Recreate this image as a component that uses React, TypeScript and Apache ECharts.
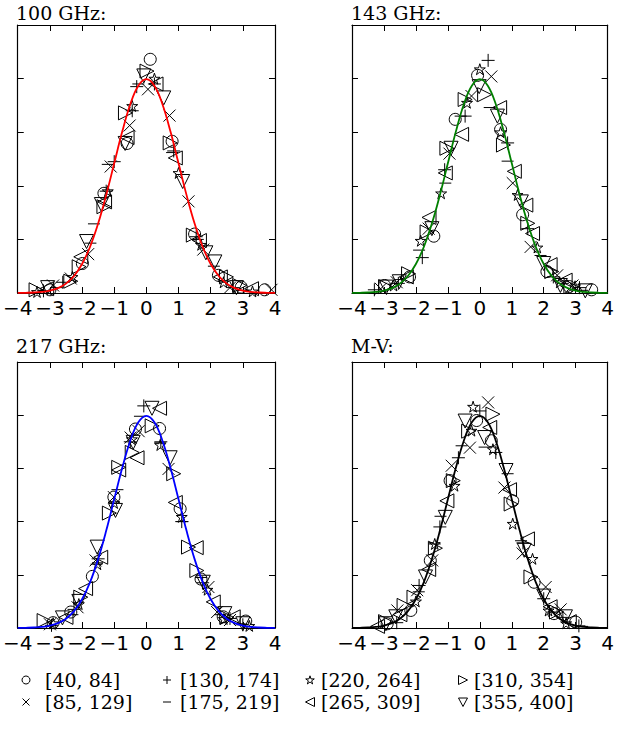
import React, { useEffect, useRef } from "react";
import * as echarts from "echarts";

// ---------- text ----------
const panelTitles = ["100 GHz:", "143 GHz:", "217 GHz:", "M-V:"];
const binLabels = ["[40, 84]", "[85, 129]", "[130, 174]", "[175, 219]", "[220, 264]", "[265, 309]", "[310, 354]", "[355, 400]"];
const curveColors = ["#ff0000", "#008000", "#0000ff", "#000000"];
const xTicks = [-4, -3, -2, -1, 0, 1, 2, 3, 4];

// ---------- fitted normal curve (tabulated) ----------
const curveX = [-4, -3.75, -3.5, -3.25, -3, -2.75, -2.5, -2.25, -2, -1.75, -1.5, -1.25, -1, -0.75, -0.5, -0.25, 0,
  0.25, 0.5, 0.75, 1, 1.25, 1.5, 1.75, 2, 2.25, 2.5, 2.75, 3, 3.25, 3.5, 3.75, 4];
const curveY = [0.0001, 0.0004, 0.0009, 0.002, 0.0044, 0.0091, 0.0175, 0.0317, 0.054, 0.0863, 0.1295, 0.1826, 0.242, 0.3011, 0.3521, 0.3867, 0.3989,
  0.3867, 0.3521, 0.3011, 0.242, 0.1826, 0.1295, 0.0863, 0.054, 0.0317, 0.0175, 0.0091, 0.0044, 0.002, 0.0009, 0.0004, 0.0001];

// ---------- scattered points: order = circle, cross, plus, minus, star, left tri, right tri, down tri ----------
const ghz100: number[][][] = [
  [[0.12, 0.436], [-0.6, 0.279], [0.8, 0.283], [-1.32, 0.186], [-1.99, 0.055], [2.24, 0.033], [2.95, 0.011], [3.68, 0.006], [-3.0, 0.006], [1.5, 0.11]],
  [[0.05, 0.38], [0.72, 0.331], [-0.52, 0.3125], [-1.11, 0.236], [1.31, 0.171], [-1.81, 0.0725], [1.77, 0.081], [-2.35, 0.027], [2.6, 0.01], [-2.9, 0.014], [3.89, 0.006]],
  [[-0.3, 0.385], [-0.44, 0.34], [-1.0, 0.245], [-1.25, 0.19], [0.85, 0.265], [1.55, 0.105], [-2.6, 0.02], [-3.2, 0.004], [2.7, 0.01], [0.25, 0.39]],
  [[-0.25, 0.39], [0.8, 0.262], [-1.63, 0.129], [-1.74, 0.093], [-1.2, 0.24], [1.6, 0.1], [2.1, 0.05], [-2.8, 0.01], [3.0, 0.005]],
  [[0.25, 0.4], [-0.44, 0.349], [1.0, 0.224], [-1.2, 0.19], [1.7, 0.09], [-2.3, 0.03], [2.4, 0.02], [-3.4, 0.002], [3.3, 0.003]],
  [[0.3, 0.39], [0.9, 0.252], [-2.04, 0.0675], [1.65, 0.098], [2.3, 0.03], [3.27, 0.008], [-1.3, 0.17], [-0.6, 0.29], [-3.1, 0.008]],
  [[0.02, 0.414], [-0.65, 0.336], [0.74, 0.28], [-1.32, 0.161], [1.46, 0.108], [-2.09, 0.049], [-2.35, 0.022], [2.49, 0.03], [2.9, 0.014], [-3.43, 0.006]],
  [[-0.08, 0.405], [0.54, 0.364], [-0.66, 0.279], [1.13, 0.208], [-1.86, 0.096], [2.13, 0.058], [-3.07, 0.01], [1.85, 0.075], [-1.4, 0.165], [2.8, 0.01]],
];

const ghz143: number[][][] = [
  [[-0.07, 0.406], [-0.77, 0.324], [0.65, 0.305], [1.34, 0.146], [-1.44, 0.106], [-2.2, 0.03], [-2.98, 0.014], [2.1, 0.04], [3.5, 0.006], [2.8, 0.012]],
  [[0.36, 0.404], [-0.26, 0.3675], [-0.95, 0.26], [1.03, 0.205], [1.59, 0.086], [2.42, 0.033], [-1.6, 0.12], [-2.6, 0.02], [2.9, 0.014], [-3.1, 0.008]],
  [[0.26, 0.434], [-0.46, 0.33], [0.87, 0.28], [-1.1, 0.23], [-1.8, 0.066], [1.5, 0.12], [-2.55, 0.018], [3.12, 0.01], [2.3, 0.03], [-3.3, 0.006]],
  [[0.31, 0.346], [0.87, 0.246], [-1.08, 0.205], [-0.6, 0.33], [-1.9, 0.08], [1.9, 0.07], [2.6, 0.018], [-2.5, 0.025], [3.2, 0.005]],
  [[0.0, 0.4175], [-0.4, 0.355], [0.65, 0.3], [-1.21, 0.186], [1.18, 0.183], [-1.85, 0.0975], [1.8, 0.085], [2.98, 0.0125], [-2.7, 0.014], [2.5, 0.02]],
  [[0.62, 0.346], [-0.57, 0.296], [1.08, 0.227], [-1.08, 0.224], [1.44, 0.164], [-1.59, 0.141], [1.65, 0.111], [2.2, 0.053], [2.67, 0.024], [-2.3, 0.03]],
  [[0.15, 0.37], [-0.46, 0.361], [0.74, 0.276], [-1.03, 0.27], [-1.65, 0.114], [-2.23, 0.036], [1.5, 0.13], [2.25, 0.04], [-2.95, 0.012], [2.85, 0.012]],
  [[-0.02, 0.385], [0.55, 0.33], [-0.9, 0.27], [1.3, 0.17], [-1.5, 0.12], [2.0, 0.055], [-2.52, 0.021], [-2.93, 0.011], [2.52, 0.014], [3.3, 0.004]],
];

const ghz217: number[][][] = [
  [[-0.34, 0.374], [0.41, 0.375], [-1.01, 0.246], [1.05, 0.224], [-1.68, 0.097], [1.7, 0.092], [-2.35, 0.03], [2.39, 0.021], [3.09, 0.013], [-2.9, 0.01]],
  [[-0.24, 0.37], [-0.49, 0.358], [0.69, 0.299], [-1.01, 0.246], [-1.58, 0.127], [1.93, 0.077], [-2.14, 0.039], [2.6, 0.015], [-3.0, 0.007], [2.2, 0.03]],
  [[-0.08, 0.4175], [-0.5, 0.35], [1.1, 0.2], [0.45, 0.35], [-1.5, 0.13], [-2.25, 0.035], [1.75, 0.085], [2.6, 0.018], [-2.95, 0.005], [3.0, 0.006]],
  [[-0.2, 0.398], [0.43, 0.348], [-0.9, 0.26], [1.12, 0.2], [-1.55, 0.12], [1.7, 0.095], [-2.3, 0.025], [2.3, 0.025], [2.9, 0.008]],
  [[0.43, 0.344], [-0.45, 0.355], [1.1, 0.209], [-1.52, 0.12], [-2.1, 0.045], [2.41, 0.017], [-2.9, 0.009], [1.9, 0.072], [-1.0, 0.235], [3.2, 0.004]],
  [[0.41, 0.413], [-0.29, 0.32], [-0.86, 0.297], [0.9, 0.236], [1.55, 0.151], [-1.42, 0.133], [-1.89, 0.074], [2.08, 0.049], [2.7, 0.021], [-2.5, 0.02]],
  [[0.18, 0.38], [-0.44, 0.33], [0.85, 0.29], [-0.86, 0.302], [-1.15, 0.216], [1.31, 0.152], [1.57, 0.108], [-2.04, 0.058], [-3.18, 0.014], [2.5, 0.02]],
  [[0.175, 0.413], [-0.41, 0.349], [0.74, 0.32], [-0.96, 0.221], [-1.53, 0.152], [1.77, 0.086], [2.44, 0.027], [-2.61, 0.019], [-2.1, 0.05], [3.0, 0.008]],
];

const mv: number[][][] = [
  [[0.36, 0.352], [-0.93, 0.277], [1.03, 0.239], [-1.55, 0.127], [1.7, 0.086], [-2.16, 0.033], [2.32, 0.027], [3.0, 0.011], [-2.9, 0.008], [-0.1, 0.39]],
  [[0.26, 0.424], [-0.31, 0.339], [-0.88, 0.305], [0.77, 0.264], [1.34, 0.14], [-1.49, 0.127], [-1.96, 0.071], [2.06, 0.077], [-2.58, 0.033], [2.53, 0.035]],
  [[0.0, 0.408], [-0.67, 0.32], [0.5, 0.33], [-1.25, 0.19], [1.35, 0.16], [-1.9, 0.08], [2.0, 0.055], [-2.6, 0.01], [2.6, 0.02], [3.1, 0.004]],
  [[0.15, 0.34], [-0.57, 0.3425], [0.87, 0.29], [-1.23, 0.21], [1.29, 0.164], [-1.41, 0.158], [-1.91, 0.068], [2.3, 0.03], [3.2, 0.003]],
  [[-0.21, 0.416], [-0.26, 0.371], [0.41, 0.336], [-0.79, 0.2675], [1.03, 0.196], [-1.41, 0.158], [1.65, 0.13], [-2.0, 0.05], [2.15, 0.033], [2.7, 0.009]],
  [[0.31, 0.377], [0.93, 0.26], [-1.03, 0.239], [1.49, 0.1675], [-1.6, 0.11], [2.2, 0.04], [-2.5, 0.025], [2.8, 0.012], [-3.2, 0.003]],
  [[0.41, 0.402], [-0.35, 0.37], [-0.83, 0.277], [0.98, 0.233], [-1.39, 0.15], [1.6, 0.096], [-2.06, 0.058], [-2.37, 0.0425], [2.4, 0.03], [-2.95, 0.012]],
  [[-0.46, 0.389], [0.15, 0.358], [0.82, 0.296], [-1.08, 0.208], [1.39, 0.146], [-1.7, 0.096], [2.68, 0.021], [-2.63, 0.021], [-2.94, 0.008], [2.0, 0.06]],
];

const panelData = [ghz100, ghz143, ghz217, mv];

// ---------- styling / layout ----------
const markerSymbols = [
  "circle",
  "path://M0,0L10,10M10,0L0,10",
  "path://M5,0L5,10M0,5L10,5",
  "path://M0,0M0,10M0,5L10,5",
  "path://M50,0L61.2,34.6L97.6,34.5L68.1,55.9L79.4,90.5L50,69L20.6,90.5L31.9,55.9L2.4,34.5L38.8,34.6Z",
  "path://M10,0L0,5L10,10Z",
  "path://M0,0L10,5L0,10Z",
  "path://M0,0L10,0L5,10Z",
];
const markerSizes = [12, 12, 13, 12, 11, 14, 14, 14];
const starTemplate = [[50, 0], [61.2, 34.6], [97.6, 34.5], [68.1, 55.9], [79.4, 90.5], [50, 69], [20.6, 90.5], [31.9, 55.9], [2.4, 34.5], [38.8, 34.6]];

const grids = [
  { left: 17, top: 25, width: 258, height: 268 },
  { left: 352, top: 25, width: 259, height: 268 },
  { left: 17, top: 362, width: 258, height: 266 },
  { left: 352, top: 362, width: 259, height: 266 },
];
const titlePos = [
  { x: 16, y: 12.5 },
  { x: 351, y: 12.5 },
  { x: 16, y: 346 },
  { x: 351, y: 346 },
];
const legendMarkerPos = [
  { x: 26, y: 680 }, { x: 26, y: 702 },
  { x: 167, y: 680 }, { x: 167, y: 702 },
  { x: 310, y: 680 }, { x: 310, y: 702 },
  { x: 463, y: 680 }, { x: 463, y: 702 },
];
const legendTextX = [45, 45, 180, 180, 321, 321, 474, 474];

const fmt = (v: number) => (v < 0 ? "\u2212" + Math.abs(v) : String(v));

const stroke = { fill: "none", stroke: "#000", lineWidth: 1 };

function legendMarker(k: number, cx: number, cy: number): any {
  const h = 4;
  switch (k) {
    case 0:
      return { type: "circle", shape: { cx, cy, r: 4 }, style: stroke };
    case 1:
      return {
        type: "group",
        children: [
          { type: "line", shape: { x1: cx - 3.5, y1: cy - 3.5, x2: cx + 3.5, y2: cy + 3.5 }, style: stroke },
          { type: "line", shape: { x1: cx + 3.5, y1: cy - 3.5, x2: cx - 3.5, y2: cy + 3.5 }, style: stroke },
        ],
      };
    case 2:
      return {
        type: "group",
        children: [
          { type: "line", shape: { x1: cx - h, y1: cy, x2: cx + h, y2: cy }, style: stroke },
          { type: "line", shape: { x1: cx, y1: cy - h, x2: cx, y2: cy + h }, style: stroke },
        ],
      };
    case 3:
      return { type: "line", shape: { x1: cx - h, y1: cy, x2: cx + h, y2: cy }, style: stroke };
    case 4:
      return {
        type: "polygon",
        shape: { points: starTemplate.map((p) => [cx - 4.5 + p[0] * 0.09, cy - 4.2 + p[1] * 0.09]) },
        style: stroke,
      };
    case 5:
      return { type: "polygon", shape: { points: [[cx + 4.5, cy - 4.5], [cx - 4.5, cy], [cx + 4.5, cy + 4.5]] }, style: stroke };
    case 6:
      return { type: "polygon", shape: { points: [[cx - 4.5, cy - 4.5], [cx + 4.5, cy], [cx - 4.5, cy + 4.5]] }, style: stroke };
    default:
      return { type: "polygon", shape: { points: [[cx - 4.5, cy - 4], [cx + 4.5, cy - 4], [cx, cy + 4.5]] }, style: stroke };
  }
}

function buildOption() {
  const xAxis: any[] = [];
  const yAxis: any[] = [];
  const series: any[] = [];
  const tickStyle = { show: true, inside: true, length: 6, lineStyle: { color: "#000", width: 1 } };
  const lineStyle = { show: true, onZero: false, lineStyle: { color: "#000", width: 1.2 } };

  grids.forEach((_, i) => {
    ["bottom", "top"].forEach((pos) => {
      xAxis.push({
        type: "value",
        gridIndex: i,
        position: pos,
        min: xTicks[0],
        max: xTicks[xTicks.length - 1],
        interval: 1,
        axisLine: lineStyle,
        axisTick: tickStyle,
        splitLine: { show: false },
        axisLabel: pos === "bottom"
          ? { show: true, formatter: fmt, fontFamily: "DejaVu Sans", fontSize: 20, color: "#000", margin: 5, showMinLabel: true, showMaxLabel: true }
          : { show: false },
      });
    });
    ["left", "right"].forEach((pos) => {
      yAxis.push({
        type: "value",
        gridIndex: i,
        position: pos,
        min: 0,
        max: 0.5,
        interval: 0.1,
        axisLine: lineStyle,
        axisTick: tickStyle,
        splitLine: { show: false },
        axisLabel: { show: false },
      });
    });

    panelData[i].forEach((pts, k) => {
      series.push({
        type: "scatter",
        name: binLabels[k],
        xAxisIndex: 2 * i,
        yAxisIndex: 2 * i,
        data: pts,
        symbol: markerSymbols[k],
        symbolSize: markerSizes[k],
        itemStyle: { color: "rgba(0,0,0,0)", borderColor: "#000", borderWidth: 1, opacity: 1 },
        z: 2,
        silent: true,
      });
    });

    series.push({
      type: "line",
      name: "fit " + panelTitles[i],
      xAxisIndex: 2 * i,
      yAxisIndex: 2 * i,
      data: curveX.map((x, j) => [x, curveY[j]]),
      showSymbol: false,
      smooth: 0.4,
      lineStyle: { color: curveColors[i], width: 1.8 },
      itemStyle: { color: curveColors[i] },
      z: 3,
      silent: true,
    });
  });

  const titles = panelTitles.map((t, i) => ({
    type: "text",
    x: titlePos[i].x,
    y: titlePos[i].y,
    style: {
      text: t,
      fill: "#000",
      font: "19px 'DejaVu Serif'",
      verticalAlign: "middle",
      align: "left",
    },
  }));

  const legendItems: any[] = [];
  binLabels.forEach((label, k) => {
    const p = legendMarkerPos[k];
    legendItems.push(legendMarker(k, p.x, p.y));
    legendItems.push({
      type: "text",
      x: legendTextX[k],
      y: p.y,
      style: {
        text: label,
        fill: "#000",
        font: "19px 'DejaVu Serif'",
        verticalAlign: "middle",
        align: "left",
      },
    });
  });

  return {
    animation: false,
    backgroundColor: "#ffffff",
    grid: grids.map((g) => ({ ...g, containLabel: false })),
    xAxis,
    yAxis,
    series,
    graphic: [...titles, ...legendItems],
  };
}

export default function App() {
  const ref = useRef<HTMLDivElement>(null);
  useEffect(() => {
    if (!ref.current) return;
    const chart = echarts.init(ref.current, undefined, { renderer: "svg" });
    chart.setOption(buildOption() as any);
    return () => chart.dispose();
  }, []);
  return (
    <div
      ref={ref}
      style={{ position: "fixed", left: 0, top: 0, width: 617, height: 733, background: "#fff" }}
    />
  );
}
